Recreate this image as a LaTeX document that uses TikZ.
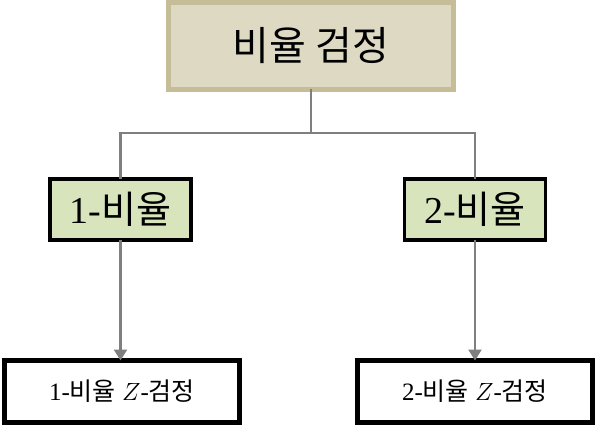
\documentclass[tikz,border=0pt]{standalone}
\usepackage{fontspec}
\setmainfont{Liberation Serif}
\newfontfamily\krfont{Noto Sans CJK KR}
\usetikzlibrary{arrows.meta}

\definecolor{topfill}{HTML}{DDD9C3}
\definecolor{topline}{HTML}{C4BD97}
\definecolor{midfill}{HTML}{D7E4BC}
\definecolor{linkgray}{HTML}{7F7F7F}

\tikzset{
  rootbox/.style={draw=topline, fill=topfill, line width=5pt,
    minimum width=285pt, minimum height=87pt, inner sep=0pt, outer sep=0pt,
    font=\fontsize{40}{44}\selectfont},
  groupbox/.style={draw=black, fill=midfill, line width=3.5pt,
    minimum width=141pt, minimum height=61pt, inner sep=0pt, outer sep=0pt,
    font=\fontsize{38}{42}\selectfont},
  testbox/.style={draw=black, fill=white, line width=5pt,
    minimum width=235pt, minimum height=62pt, inner sep=0pt, outer sep=0pt,
    font=\fontsize{25}{30}\selectfont},
  link/.style={draw=linkgray, line width=2.5pt},
  arrowlink/.style={link, -{Triangle[width=13pt,length=11pt]}}
}

\begin{document}
\begin{tikzpicture}[x=1pt, y=-1pt]
  \useasboundingbox (0,0) rectangle (596,427);

  % hierarchy boxes
  \node[rootbox]  (root)  at (311,46)    {\krfont 비율 검정};
  \node[groupbox] (one)   at (120.5,209.5) {1-{\krfont 비율}};
  \node[groupbox] (two)   at (475,209.5)   {2-{\krfont 비율}};
  \node[testbox]  (ztest1) at (122,391.5)  {1-{\krfont 비율} $Z$-{\krfont 검정}};
  \node[testbox]  (ztest2) at (475,391.5)  {2-{\krfont 비율} $Z$-{\krfont 검정}};

  % tree connectors
  \coordinate (bar) at (311,133);
  \draw[link] (root.south) -- (bar);
  \draw[link] (one.north) |- (bar) -| (two.north);

  % arrows straight down to the tests
  \draw[arrowlink] (one.south) -- (one.south |- ztest1.north);
  \draw[arrowlink] (two.south) -- (two.south |- ztest2.north);
\end{tikzpicture}
\end{document}
